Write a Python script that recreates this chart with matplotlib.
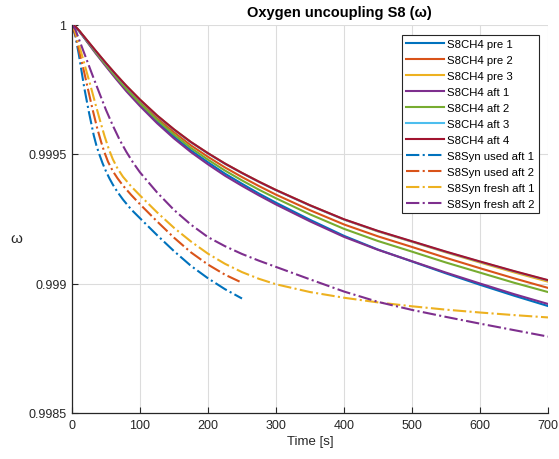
import matplotlib
matplotlib.use("Agg")
import matplotlib.pyplot as plt

plt.rcParams['font.family'] = ['Liberation Sans', 'DejaVu Sans']

# ---------------- data ----------------
t_solid = [0, 5, 10, 15, 20, 25, 35, 50, 65, 80, 100, 125, 150, 175, 200, 225, 250, 275, 300,
           350, 400, 450, 500, 550, 600, 650, 700]

ch4_pre1 = [1.0, 0.999991, 0.999976, 0.999959, 0.999942, 0.999925, 0.999891, 0.999841, 0.999793,
            0.999747, 0.999690, 0.999625, 0.999567, 0.999514, 0.999468, 0.999424, 0.999385, 0.999347,
            0.999312, 0.999246, 0.999184, 0.999131, 0.999085, 0.999039, 0.998995, 0.998953, 0.998913]
ch4_pre2 = [1.0, 0.999992, 0.999978, 0.999961, 0.999945, 0.999928, 0.999895, 0.999847, 0.999801,
            0.999757, 0.999702, 0.999639, 0.999584, 0.999533, 0.999489, 0.999448, 0.999411, 0.999376,
            0.999343, 0.999283, 0.999228, 0.999182, 0.999141, 0.999099, 0.999059, 0.999020, 0.998983]
ch4_pre3 = [1.0, 0.999992, 0.999978, 0.999962, 0.999946, 0.999930, 0.999898, 0.999851, 0.999806,
            0.999763, 0.999710, 0.999649, 0.999595, 0.999546, 0.999503, 0.999463, 0.999427, 0.999393,
            0.999361, 0.999302, 0.999247, 0.999201, 0.999161, 0.999120, 0.999081, 0.999043, 0.999007]
ch4_aft1 = [1.0, 0.999991, 0.999976, 0.999959, 0.999941, 0.999923, 0.999888, 0.999838, 0.999789,
            0.999742, 0.999685, 0.999619, 0.999560, 0.999507, 0.999460, 0.999416, 0.999377, 0.999340,
            0.999305, 0.999240, 0.999180, 0.999130, 0.999086, 0.999042, 0.999000, 0.998959, 0.998921]
ch4_aft2 = [1.0, 0.999992, 0.999977, 0.999960, 0.999943, 0.999926, 0.999892, 0.999843, 0.999796,
            0.999751, 0.999696, 0.999632, 0.999575, 0.999523, 0.999478, 0.999436, 0.999398, 0.999362,
            0.999329, 0.999267, 0.999211, 0.999164, 0.999123, 0.999081, 0.999042, 0.999003, 0.998967]
ch4_aft3 = [1.0, 0.999991, 0.999977, 0.999961, 0.999945, 0.999929, 0.999897, 0.999850, 0.999805,
            0.999762, 0.999709, 0.999648, 0.999594, 0.999545, 0.999502, 0.999462, 0.999426, 0.999392,
            0.999360, 0.999301, 0.999247, 0.999202, 0.999162, 0.999122, 0.999084, 0.999047, 0.999012]
ch4_aft4 = [1.0, 0.999992, 0.999978, 0.999962, 0.999946, 0.999930, 0.999898, 0.999851, 0.999806,
            0.999763, 0.999710, 0.999649, 0.999595, 0.999546, 0.999503, 0.999463, 0.999427, 0.999393,
            0.999361, 0.999302, 0.999248, 0.999203, 0.999163, 0.999123, 0.999085, 0.999048, 0.999013]

t_used1 = [0, 5, 10, 18, 25, 32, 36, 40, 45, 50, 55, 60, 67, 75, 87, 100, 125, 150, 175, 200, 225, 250]
syn_used1 = [1.0, 0.999955, 0.999885, 0.999756, 0.999660, 0.999572, 0.999532, 0.999500, 0.999464,
             0.999433, 0.999406, 0.999382, 0.999353, 0.999324, 0.999286, 0.999252, 0.999187,
             0.999125, 0.999068, 0.999020, 0.998978, 0.998942]

t_used2 = [0, 5, 10, 18, 23, 30, 37, 43, 47.5, 53, 60, 67, 75, 87, 100, 125, 150, 175, 200, 225, 250]
syn_used2 = [1.0, 0.999960, 0.999903, 0.999815, 0.999756, 0.999675, 0.999600, 0.999545, 0.999508,
             0.999470, 0.999434, 0.999406, 0.999378, 0.999342, 0.999306, 0.999240, 0.999177,
             0.999120, 0.999073, 0.999034, 0.999003]

t_fresh1 = [0, 5, 10, 18, 28, 35, 42, 48, 54, 60, 67, 75, 87, 100, 125, 150, 175, 200, 225, 250,
            275, 300, 350, 400, 450, 500, 550, 600, 650, 700]
syn_fresh1 = [1.0, 0.999970, 0.999925, 0.999850, 0.999756, 0.999688, 0.999622, 0.999568, 0.999520,
              0.999480, 0.999444, 0.999412, 0.999375, 0.999340, 0.999275, 0.999215, 0.999162,
              0.999115, 0.999076, 0.999044, 0.999018, 0.998997, 0.998967, 0.998945, 0.998927,
              0.998912, 0.998899, 0.998888, 0.998878, 0.998869]

t_fresh2 = [0, 5, 10, 20, 30, 40, 50, 60, 70, 80, 90, 100, 125, 150, 175, 200, 225, 250, 275, 300,
            350, 400, 450, 500, 550, 600, 650, 700]
syn_fresh2 = [1.0, 0.999980, 0.999945, 0.999875, 0.999805, 0.999737, 0.999670, 0.999610, 0.999555,
              0.999508, 0.999466, 0.999429, 0.999352, 0.999284, 0.999227, 0.999179, 0.999144,
              0.999114, 0.999088, 0.999064, 0.999016, 0.998969, 0.998929, 0.998898, 0.998871,
              0.998845, 0.998820, 0.998795]

labels = ['S8CH4 pre 1', 'S8CH4 pre 2', 'S8CH4 pre 3', 'S8CH4 aft 1', 'S8CH4 aft 2',
          'S8CH4 aft 3', 'S8CH4 aft 4', 'S8Syn used aft 1', 'S8Syn used aft 2',
          'S8Syn fresh aft 1', 'S8Syn fresh aft 2']

x_ticks = [0, 100, 200, 300, 400, 500, 600, 700]
y_ticks = [0.9985, 0.999, 0.9995, 1.0]
y_ticklabels = ['0.9985', '0.999', '0.9995', '1']

# ---------------- style ----------------
c_blue = '#0072BD'
c_orange = '#D95319'
c_yellow = '#EDB120'
c_purple = '#7E2F8E'
c_green = '#77AC30'
c_cyan = '#4DBEEE'
c_red = '#A2142F'
txt = '#262626'

fig = plt.figure(figsize=(5.59, 4.60), dpi=100)
ax = fig.add_axes([72 / 559, 1 - 414 / 460, 476 / 559, (414 - 25.5) / 460])

lw = 1.5
series = [
    (t_solid, ch4_pre1, c_blue, '-'),
    (t_solid, ch4_pre2, c_orange, '-'),
    (t_solid, ch4_pre3, c_yellow, '-'),
    (t_solid, ch4_aft1, c_purple, '-'),
    (t_solid, ch4_aft2, c_green, '-'),
    (t_solid, ch4_aft3, c_cyan, '-'),
    (t_solid, ch4_aft4, c_red, '-'),
    (t_used1, syn_used1, c_blue, '-.'),
    (t_used2, syn_used2, c_orange, '-.'),
    (t_fresh1, syn_fresh1, c_yellow, '-.'),
    (t_fresh2, syn_fresh2, c_purple, '-.'),
]
for (tx, vy, col, ls), lab in zip(series, labels):
    ax.plot(tx, vy, color=col, linestyle=ls, linewidth=lw, label=lab,
            solid_joinstyle='round', dash_joinstyle='round')

ax.set_xlim(0, 700)
ax.set_ylim(0.9985, 1.0)
ax.set_xticks(x_ticks)
ax.set_yticks(y_ticks)
ax.set_yticklabels(y_ticklabels)
ax.grid(True, color='#dcdcdc', linewidth=0.8)
ax.set_axisbelow(True)
for s in ['top', 'right']:
    ax.spines[s].set_visible(False)
for s in ['left', 'bottom']:
    ax.spines[s].set_color(txt)
    ax.spines[s].set_linewidth(0.9)
ax.tick_params(direction='in', length=4, width=0.8, colors=txt, labelsize=9, pad=4)

ax.set_title('Oxygen uncoupling S8 (ω)', fontsize=10.5, fontweight='bold', color='black',
             pad=6, x=0.561)
ax.set_xlabel('Time [s]', fontsize=9.5, color=txt, labelpad=3)
ax.set_ylabel('ω', fontsize=11, color=txt, rotation=0, va='center', ha='center')
ax.yaxis.set_label_coords(-0.118, 0.45)

leg = ax.legend(loc='upper right', bbox_to_anchor=(0.981, 0.973), borderaxespad=0,
                fontsize=8.2, handlelength=3.3, handletextpad=0.3, labelspacing=0.53,
                borderpad=0.35, fancybox=False, framealpha=1, edgecolor=txt)
leg.get_frame().set_linewidth(0.8)
for t in leg.get_texts():
    t.set_color('black')

fig.savefig('out.png', dpi=100)
